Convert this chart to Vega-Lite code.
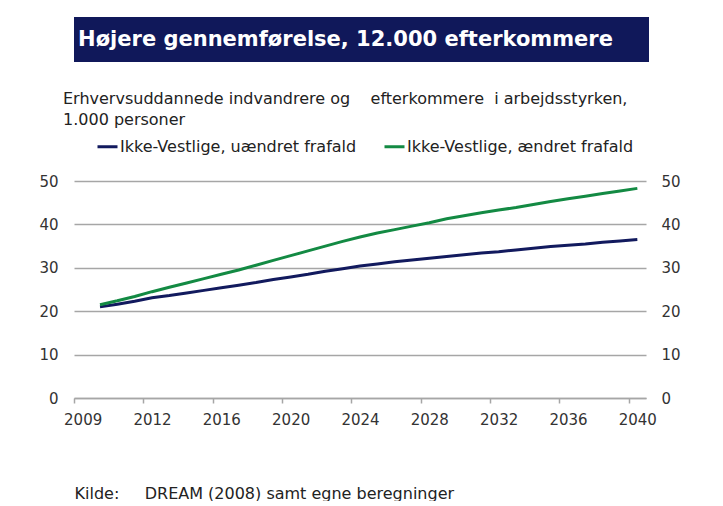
{
  "$schema": "https://vega.github.io/schema/vega-lite/v6.json",
  "padding": {"left": 38, "top": 17, "right": 0, "bottom": 0},
  "background": "white",
  "config": {"font": "DejaVu Sans", "view": {"stroke": null}},
  "spacing": 29,
  "resolve": {"scale": {"color": "independent"}, "legend": {"color": "independent"}},
  "vconcat": [
    {
      "width": 575,
      "height": 45,
      "view": {"fill": "#10185a", "stroke": null},
      "data": {"values": [{"t": "Højere gennemførelse, 12.000 efterkommere"}]},
      "mark": {"type": "text", "color": "white", "fontWeight": "bold", "fontSize": 21, "font": "DejaVu Sans", "dx": -16},
      "encoding": {"text": {"field": "t", "type": "nominal"}}
    },
    {
      "width": 572,
      "height": 217,
      "title": {
        "text": ["Erhvervsuddannede indvandrere og\u00a0\u00a0\u00a0\u00a0efterkommere\u00a0\u00a0i arbejdsstyrken,", "1.000 personer"],
        "anchor": "start",
        "frame": "group",
        "dx": -11,
        "fontSize": 16,
        "fontWeight": "normal",
        "color": "#222222",
        "lineHeight": 21,
        "offset": 7
      },
      "data": {"values": [
        {"year": 2009, "series": "Ikke-Vestlige, uændret frafald", "value": 21.0},
        {"year": 2010, "series": "Ikke-Vestlige, uændret frafald", "value": 21.6},
        {"year": 2011, "series": "Ikke-Vestlige, uændret frafald", "value": 22.3},
        {"year": 2012, "series": "Ikke-Vestlige, uændret frafald", "value": 23.1},
        {"year": 2013, "series": "Ikke-Vestlige, uændret frafald", "value": 23.6},
        {"year": 2014, "series": "Ikke-Vestlige, uændret frafald", "value": 24.2},
        {"year": 2015, "series": "Ikke-Vestlige, uændret frafald", "value": 24.8},
        {"year": 2016, "series": "Ikke-Vestlige, uændret frafald", "value": 25.4},
        {"year": 2017, "series": "Ikke-Vestlige, uændret frafald", "value": 26.0},
        {"year": 2018, "series": "Ikke-Vestlige, uændret frafald", "value": 26.6},
        {"year": 2019, "series": "Ikke-Vestlige, uændret frafald", "value": 27.3},
        {"year": 2020, "series": "Ikke-Vestlige, uændret frafald", "value": 27.9},
        {"year": 2021, "series": "Ikke-Vestlige, uændret frafald", "value": 28.5},
        {"year": 2022, "series": "Ikke-Vestlige, uændret frafald", "value": 29.2},
        {"year": 2023, "series": "Ikke-Vestlige, uændret frafald", "value": 29.8},
        {"year": 2024, "series": "Ikke-Vestlige, uændret frafald", "value": 30.4},
        {"year": 2025, "series": "Ikke-Vestlige, uændret frafald", "value": 30.9},
        {"year": 2026, "series": "Ikke-Vestlige, uændret frafald", "value": 31.4},
        {"year": 2027, "series": "Ikke-Vestlige, uændret frafald", "value": 31.8},
        {"year": 2028, "series": "Ikke-Vestlige, uændret frafald", "value": 32.2},
        {"year": 2029, "series": "Ikke-Vestlige, uændret frafald", "value": 32.6},
        {"year": 2030, "series": "Ikke-Vestlige, uændret frafald", "value": 33.0},
        {"year": 2031, "series": "Ikke-Vestlige, uændret frafald", "value": 33.4},
        {"year": 2032, "series": "Ikke-Vestlige, uændret frafald", "value": 33.7},
        {"year": 2033, "series": "Ikke-Vestlige, uændret frafald", "value": 34.1},
        {"year": 2034, "series": "Ikke-Vestlige, uændret frafald", "value": 34.5},
        {"year": 2035, "series": "Ikke-Vestlige, uændret frafald", "value": 34.9},
        {"year": 2036, "series": "Ikke-Vestlige, uændret frafald", "value": 35.2},
        {"year": 2037, "series": "Ikke-Vestlige, uændret frafald", "value": 35.5},
        {"year": 2038, "series": "Ikke-Vestlige, uændret frafald", "value": 35.9},
        {"year": 2039, "series": "Ikke-Vestlige, uændret frafald", "value": 36.2},
        {"year": 2040, "series": "Ikke-Vestlige, uændret frafald", "value": 36.5},
        {"year": 2009, "series": "Ikke-Vestlige, ændret frafald", "value": 21.5},
        {"year": 2010, "series": "Ikke-Vestlige, ændret frafald", "value": 22.4},
        {"year": 2011, "series": "Ikke-Vestlige, ændret frafald", "value": 23.4},
        {"year": 2012, "series": "Ikke-Vestlige, ændret frafald", "value": 24.5},
        {"year": 2013, "series": "Ikke-Vestlige, ændret frafald", "value": 25.5},
        {"year": 2014, "series": "Ikke-Vestlige, ændret frafald", "value": 26.5},
        {"year": 2015, "series": "Ikke-Vestlige, ændret frafald", "value": 27.5},
        {"year": 2016, "series": "Ikke-Vestlige, ændret frafald", "value": 28.5},
        {"year": 2017, "series": "Ikke-Vestlige, ændret frafald", "value": 29.5},
        {"year": 2018, "series": "Ikke-Vestlige, ændret frafald", "value": 30.6},
        {"year": 2019, "series": "Ikke-Vestlige, ændret frafald", "value": 31.7},
        {"year": 2020, "series": "Ikke-Vestlige, ændret frafald", "value": 32.8},
        {"year": 2021, "series": "Ikke-Vestlige, ændret frafald", "value": 33.9},
        {"year": 2022, "series": "Ikke-Vestlige, ændret frafald", "value": 35.0},
        {"year": 2023, "series": "Ikke-Vestlige, ændret frafald", "value": 36.1},
        {"year": 2024, "series": "Ikke-Vestlige, ændret frafald", "value": 37.1},
        {"year": 2025, "series": "Ikke-Vestlige, ændret frafald", "value": 38.0},
        {"year": 2026, "series": "Ikke-Vestlige, ændret frafald", "value": 38.8},
        {"year": 2027, "series": "Ikke-Vestlige, ændret frafald", "value": 39.6},
        {"year": 2028, "series": "Ikke-Vestlige, ændret frafald", "value": 40.4},
        {"year": 2029, "series": "Ikke-Vestlige, ændret frafald", "value": 41.3},
        {"year": 2030, "series": "Ikke-Vestlige, ændret frafald", "value": 42.0},
        {"year": 2031, "series": "Ikke-Vestlige, ændret frafald", "value": 42.7},
        {"year": 2032, "series": "Ikke-Vestlige, ændret frafald", "value": 43.3},
        {"year": 2033, "series": "Ikke-Vestlige, ændret frafald", "value": 43.9},
        {"year": 2034, "series": "Ikke-Vestlige, ændret frafald", "value": 44.6},
        {"year": 2035, "series": "Ikke-Vestlige, ændret frafald", "value": 45.3},
        {"year": 2036, "series": "Ikke-Vestlige, ændret frafald", "value": 45.9},
        {"year": 2037, "series": "Ikke-Vestlige, ændret frafald", "value": 46.5},
        {"year": 2038, "series": "Ikke-Vestlige, ændret frafald", "value": 47.1},
        {"year": 2039, "series": "Ikke-Vestlige, ændret frafald", "value": 47.7},
        {"year": 2040, "series": "Ikke-Vestlige, ændret frafald", "value": 48.3}
      ]},
      "layer": [
        {
          "mark": {"type": "line", "strokeWidth": 3},
          "encoding": {
            "x": {
              "field": "year", "type": "quantitative",
              "scale": {"domain": [2007.5, 2040.5], "nice": false, "zero": false},
              "axis": {
                "values": [2008, 2012, 2016, 2020, 2024, 2028, 2032, 2036, 2040],
                "format": "d",
                "labelExpr": "datum.value == 2008 ? '2009' : datum.label",
                "tickOffset": -8.66,
                "labelOffset": 8.66,
                "labelFlush": false,
                "labelOverlap": false,
                "grid": false,
                "domainColor": "#a6a6a6",
                "domainWidth": 1.5,
                "tickColor": "#a6a6a6",
                "tickWidth": 1.5,
                "tickSize": 5,
                "labelFontSize": 15,
                "labelColor": "#333333",
                "labelPadding": 9,
                "title": "Kilde:\u00a0\u00a0\u00a0\u00a0\u00a0DREAM (2008) samt egne beregninger",
                "titleAnchor": "start",
                "titleAlign": "left",
                "titleFontWeight": "normal",
                "titleFontSize": 16,
                "titleColor": "#222222",
                "titlePadding": 58
              }
            },
            "y": {
              "field": "value", "type": "quantitative",
              "scale": {"domain": [0, 50], "nice": false},
              "axis": {
                "values": [0, 10, 20, 30, 40, 50],
                "grid": true, "gridColor": "#a6a6a6", "gridWidth": 1.5,
                "domain": false, "ticks": false,
                "labelPadding": 16, "labelFontSize": 15, "labelColor": "#333333",
                "title": null
              }
            },
            "color": {
              "field": "series", "type": "nominal",
              "scale": {"domain": ["Ikke-Vestlige, uændret frafald", "Ikke-Vestlige, ændret frafald"], "range": ["#121a5e", "#138a43"]},
              "legend": {
                "orient": "none", "legendX": 22, "legendY": -46,
                "direction": "horizontal", "title": null,
                "symbolType": "stroke", "symbolStrokeWidth": 3, "symbolSize": 400,
                "labelFontSize": 16, "labelColor": "#222222", "labelOffset": 1,
                "labelLimit": 0,
                "columnPadding": 21
              }
            }
          }
        },
        {
          "mark": {"type": "point", "opacity": 0},
          "encoding": {
            "x": {"field": "year", "type": "quantitative"},
            "y": {
              "field": "value", "type": "quantitative",
              "scale": {"domain": [0, 50], "nice": false},
              "axis": {
                "orient": "right",
                "values": [0, 10, 20, 30, 40, 50],
                "grid": false, "domain": false, "ticks": false,
                "labelPadding": 15, "labelFontSize": 15, "labelColor": "#333333",
                "title": null
              }
            }
          }
        }
      ],
      "resolve": {"scale": {"y": "independent"}}
    }
  ]
}
